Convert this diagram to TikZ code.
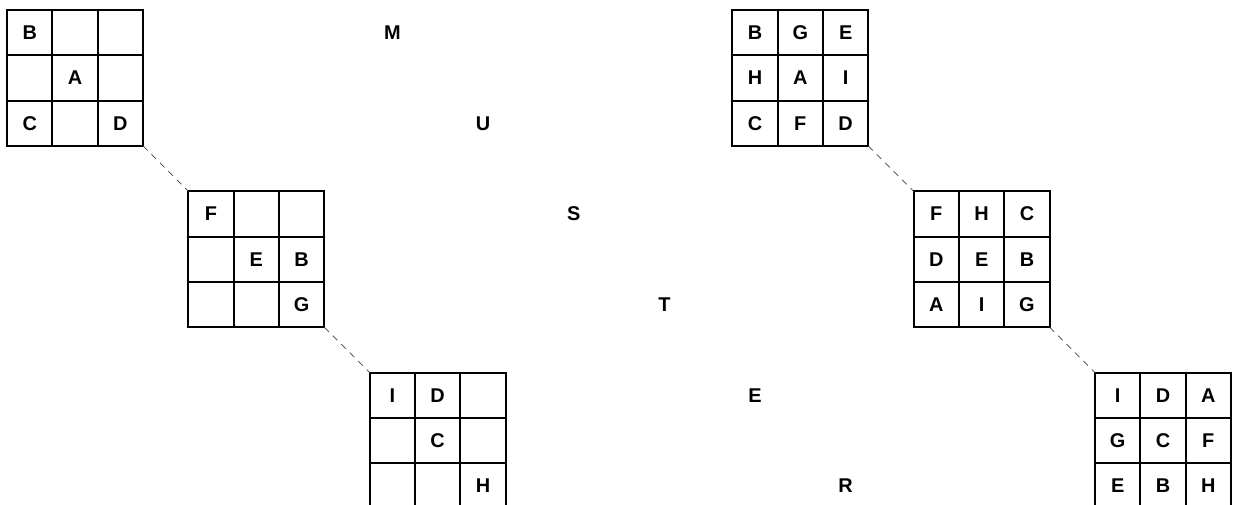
\documentclass[tikz,border=0pt]{standalone}
\usepackage{fontspec}
\setmainfont{Liberation Sans}
\usetikzlibrary{positioning}

\begin{document}
\begin{tikzpicture}[x=1cm, y=-1cm,
    frame/.style={draw, line width=1.1pt, minimum size=3cm, inner sep=0pt, outer sep=0pt, anchor=north west},
    letter/.style={font=\bfseries\fontsize{12.5}{14}\selectfont, inner sep=0pt},
    link/.style={line width=0.45pt, black!75, dash pattern=on 4pt off 3.5pt}]
    \clip (-0.155,-0.22) rectangle (27.045,10.92);

    % Grids
    \foreach \g/\x/\y in {L1/0/0, L2/4/4, L3/8/8, R1/16/0, R2/20/4, R3/24/8} {
        \node[frame] (\g) at (\x,\y) {};
        \foreach \k in {1,2} {
            \draw[line width=1.1pt] ([xshift=\k cm]\g.north west) -- ([xshift=\k cm]\g.south west);
            \draw[line width=1.1pt] ([yshift=-\k cm]\g.north west) -- ([yshift=-\k cm]\g.north east);
        }
    }

    % Letters in the cells
    \foreach \g/\cells in {
        L1/{0/0/B,1/1/A,0/2/C,2/2/D},
        L2/{0/0/F,1/1/E,2/1/B,2/2/G},
        L3/{0/0/I,1/0/D,1/1/C,2/2/H},
        R1/{0/0/B,1/0/G,2/0/E,0/1/H,1/1/A,2/1/I,0/2/C,1/2/F,2/2/D},
        R2/{0/0/F,1/0/H,2/0/C,0/1/D,1/1/E,2/1/B,0/2/A,1/2/I,2/2/G},
        R3/{0/0/I,1/0/D,2/0/A,0/1/G,1/1/C,2/1/F,0/2/E,1/2/B,2/2/H}}
        \foreach \c/\r/\t in \cells
            \node[letter] (\g-\c\r) at ([shift={(\c+0.5,\r+0.5)}]\g.north west) {\t};

    % Word down the middle
    \foreach \g/\a/\b in {L1/M/U, L2/S/T, L3/E/R} {
        \node[letter] (\g-\a) at ([shift={(8.5,0.5)}]\g.north west) {\a};
        \node[letter] (\g-\b) at ([shift={(10.5,2.5)}]\g.north west) {\b};
    }

    % Dashed links between grids
    \draw[link] (L1.south east) -- (L2.north west);
    \draw[link] (L2.south east) -- (L3.north west);
    \draw[link] (R1.south east) -- (R2.north west);
    \draw[link] (R2.south east) -- (R3.north west);
\end{tikzpicture}
\end{document}
